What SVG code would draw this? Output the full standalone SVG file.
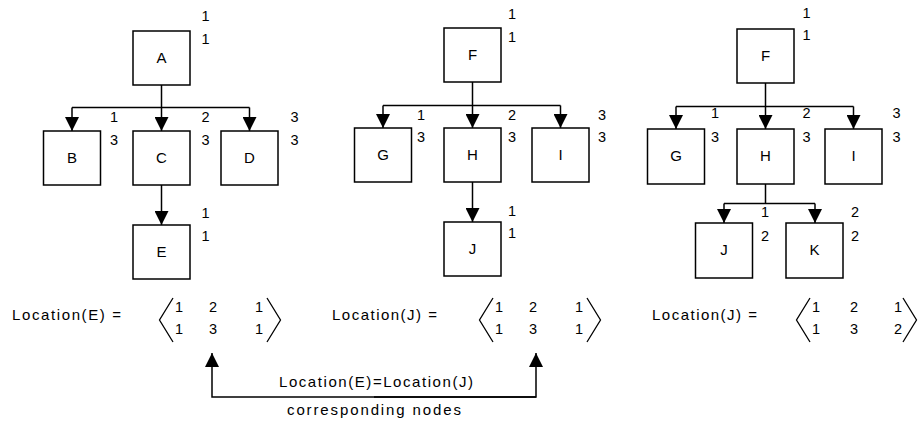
<svg xmlns="http://www.w3.org/2000/svg" width="920" height="423" viewBox="0 0 920 423">
  <defs>
    <marker id="arrow" viewBox="0 0 14 14" refX="14" refY="7" markerWidth="14" markerHeight="14" markerUnits="userSpaceOnUse" orient="auto">
      <path d="M0,0 L14,7 L0,14 Z" fill="#000"/>
    </marker>
  </defs>
  <style>
    .box { fill: #fff; stroke: #000; stroke-width: 1.5; }
    .lbl { font-family: "Liberation Sans", Arial, sans-serif; font-size: 15px; fill: #000; text-anchor: middle; }
    .num { font-family: "Liberation Sans", Arial, sans-serif; font-size: 14.5px; fill: #000; text-anchor: middle; }
    .txt { font-family: "Liberation Sans", Arial, sans-serif; font-size: 15px; fill: #000; }
    .edge { fill: none; stroke: #000; stroke-width: 1.5; }
    .arr { marker-end: url(#arrow); }
    .brk { fill: none; stroke: #000; stroke-width: 1.3; }
  </style>
  <rect width="920" height="423" fill="#fff"/>

  <!-- connectors -->
  <g id="connectors">
    <!-- tree 1 -->
    <path class="edge" d="M161.5,85 V107.5 M72,107.5 H249.5"/>
    <path class="edge arr" d="M72,107.5 V131"/>
    <path class="edge arr" d="M161.5,107.5 V131"/>
    <path class="edge arr" d="M249.5,107.5 V131"/>
    <path class="edge arr" d="M161.5,185 V225"/>
    <!-- tree 2 -->
    <path class="edge" d="M472.5,82 V105.5 M383,105.5 H560.5"/>
    <path class="edge arr" d="M383,105.5 V128"/>
    <path class="edge arr" d="M472.5,105.5 V128"/>
    <path class="edge arr" d="M560.5,105.5 V128"/>
    <path class="edge arr" d="M472.5,182 V222"/>
    <!-- tree 3 -->
    <path class="edge" d="M765.5,83 V106.5 M676,106.5 H853.5"/>
    <path class="edge arr" d="M676,106.5 V129"/>
    <path class="edge arr" d="M765.5,106.5 V129"/>
    <path class="edge arr" d="M853.5,106.5 V129"/>
    <path class="edge" d="M765.5,184 V203.5 M724,203.5 H815"/>
    <path class="edge arr" d="M724,203.5 V223"/>
    <path class="edge arr" d="M815,203.5 V223"/>
    <!-- correspondence arrow -->
    <path class="edge arr" d="M536,397 H212 V353"/>
    <path class="edge arr" d="M374,397 H536 V353"/>
  </g>

  <!-- tree 1 nodes -->
  <g id="node-A"><rect class="box" x="133" y="31" width="57" height="54"/><text class="lbl" x="161.5" y="63">A</text></g>
  <g id="node-B"><rect class="box" x="43.5" y="131" width="57" height="54"/><text class="lbl" x="72" y="163">B</text></g>
  <g id="node-C"><rect class="box" x="133" y="131" width="57" height="54"/><text class="lbl" x="161.5" y="163">C</text></g>
  <g id="node-D"><rect class="box" x="221" y="131" width="57" height="54"/><text class="lbl" x="249.5" y="163">D</text></g>
  <g id="node-E"><rect class="box" x="133" y="225" width="57" height="54"/><text class="lbl" x="161.5" y="257">E</text></g>

  <!-- tree 2 nodes -->
  <g id="node-F1"><rect class="box" x="444" y="28" width="57" height="54"/><text class="lbl" x="472.5" y="60">F</text></g>
  <g id="node-G1"><rect class="box" x="354.5" y="128" width="57" height="54"/><text class="lbl" x="383" y="160">G</text></g>
  <g id="node-H1"><rect class="box" x="444" y="128" width="57" height="54"/><text class="lbl" x="472.5" y="160">H</text></g>
  <g id="node-I1"><rect class="box" x="532" y="128" width="57" height="54"/><text class="lbl" x="560.5" y="160">I</text></g>
  <g id="node-J1"><rect class="box" x="444" y="222" width="57" height="54"/><text class="lbl" x="472.5" y="254">J</text></g>

  <!-- tree 3 nodes -->
  <g id="node-F2"><rect class="box" x="737" y="29" width="57" height="54"/><text class="lbl" x="765.5" y="61">F</text></g>
  <g id="node-G2"><rect class="box" x="647.5" y="129" width="57" height="55"/><text class="lbl" x="676" y="161">G</text></g>
  <g id="node-H2"><rect class="box" x="737" y="129" width="57" height="55"/><text class="lbl" x="765.5" y="161">H</text></g>
  <g id="node-I2"><rect class="box" x="825" y="129" width="57" height="55"/><text class="lbl" x="853.5" y="161">I</text></g>
  <g id="node-J2"><rect class="box" x="695.5" y="223" width="57" height="55"/><text class="lbl" x="724" y="255">J</text></g>
  <g id="node-K2"><rect class="box" x="786" y="223" width="57" height="55"/><text class="lbl" x="814.5" y="255">K</text></g>

  <!-- position numbers -->
  <g id="numbers-1">
    <text class="num" x="205.5" y="21">1</text><text class="num" x="205.5" y="44">1</text>
    <text class="num" x="114" y="122">1</text><text class="num" x="114" y="145">3</text>
    <text class="num" x="205.5" y="122">2</text><text class="num" x="205.5" y="145">3</text>
    <text class="num" x="294.5" y="122">3</text><text class="num" x="294.5" y="145">3</text>
    <text class="num" x="205.5" y="218">1</text><text class="num" x="205.5" y="241">1</text>
  </g>
  <g id="numbers-2">
    <text class="num" x="512" y="19">1</text><text class="num" x="512" y="42">1</text>
    <text class="num" x="421" y="120">1</text><text class="num" x="421" y="142">3</text>
    <text class="num" x="512" y="120">2</text><text class="num" x="512" y="142">3</text>
    <text class="num" x="602" y="120">3</text><text class="num" x="602" y="142">3</text>
    <text class="num" x="512" y="216">1</text><text class="num" x="512" y="238">1</text>
  </g>
  <g id="numbers-3">
    <text class="num" x="806.5" y="18">1</text><text class="num" x="806.5" y="40">1</text>
    <text class="num" x="715" y="118">1</text><text class="num" x="715" y="142">3</text>
    <text class="num" x="806.5" y="118">2</text><text class="num" x="806.5" y="142">3</text>
    <text class="num" x="896.5" y="118">3</text><text class="num" x="896.5" y="142">3</text>
    <text class="num" x="765" y="217">1</text><text class="num" x="765" y="241">2</text>
    <text class="num" x="855" y="217">2</text><text class="num" x="855" y="241">2</text>
  </g>

  <!-- location vectors -->
  <g id="location-E">
    <text class="txt" x="12" y="320" textLength="109" lengthAdjust="spacing">Location(E) =</text>
    <path class="brk" d="M173,298 L159.5,320 L173,342 M267,298 L280.5,320 L267,342"/>
    <text class="num" x="179" y="312">1</text><text class="num" x="213" y="312">2</text><text class="num" x="259" y="312">1</text>
    <text class="num" x="179" y="334">1</text><text class="num" x="213" y="334">3</text><text class="num" x="259" y="334">1</text>
  </g>
  <g id="location-J1">
    <text class="txt" x="332" y="320" textLength="105" lengthAdjust="spacing">Location(J) =</text>
    <path class="brk" d="M493,298 L479.5,320 L493,342 M587,298 L600.5,320 L587,342"/>
    <text class="num" x="499" y="312">1</text><text class="num" x="533" y="312">2</text><text class="num" x="579" y="312">1</text>
    <text class="num" x="499" y="334">1</text><text class="num" x="533" y="334">3</text><text class="num" x="579" y="334">1</text>
  </g>
  <g id="location-J2">
    <text class="txt" x="652" y="320" textLength="105" lengthAdjust="spacing">Location(J) =</text>
    <path class="brk" d="M810,298 L796.5,320 L810,342 M903,298 L916.5,320 L903,342"/>
    <text class="num" x="816" y="312">1</text><text class="num" x="854" y="312">2</text><text class="num" x="898" y="312">1</text>
    <text class="num" x="816" y="334">1</text><text class="num" x="854" y="334">3</text><text class="num" x="898" y="334">2</text>
  </g>

  <!-- correspondence labels -->
  <g id="correspondence">
    <text class="txt" x="279" y="387" textLength="194" lengthAdjust="spacing">Location(E)=Location(J)</text>
    <text class="txt" x="287" y="415" textLength="174" lengthAdjust="spacing">corresponding nodes</text>
  </g>
</svg>
